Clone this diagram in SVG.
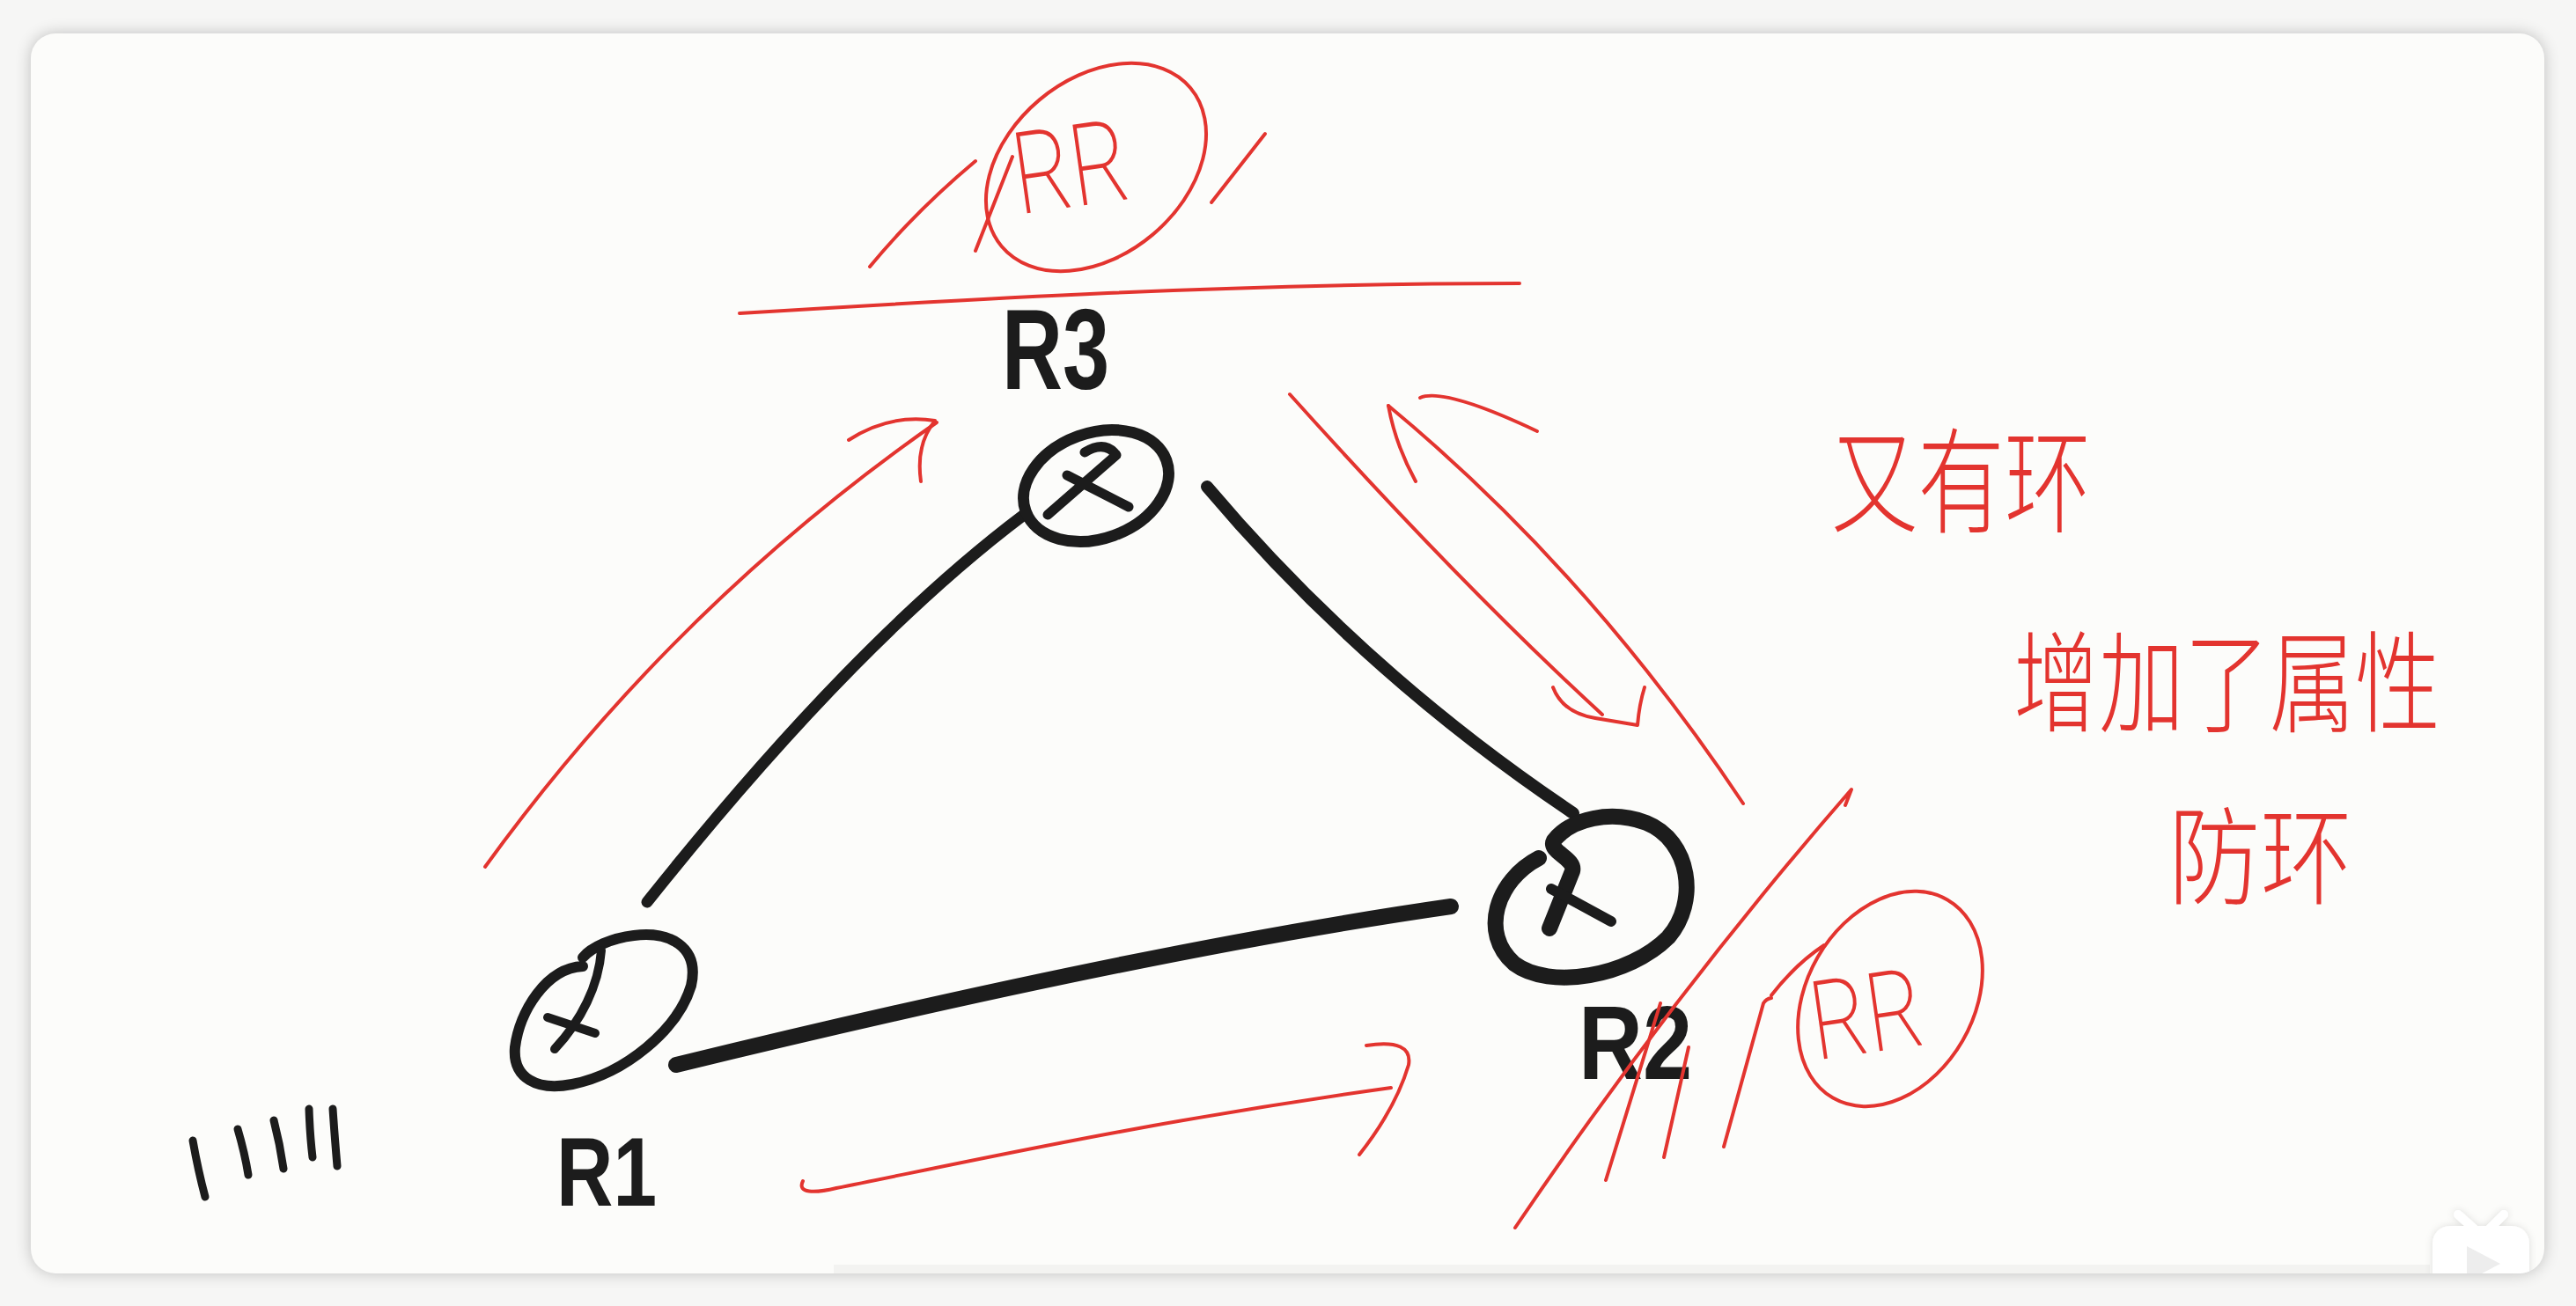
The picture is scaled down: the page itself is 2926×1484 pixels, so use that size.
<svg xmlns="http://www.w3.org/2000/svg" width="2926" height="1484" viewBox="0 0 2926 1484">
<defs>
<filter id="sh" x="-5%" y="-5%" width="110%" height="110%"><feGaussianBlur stdDeviation="9"/></filter>
<filter id="ish" x="-30%" y="-30%" width="160%" height="160%"><feDropShadow dx="0" dy="0" stdDeviation="4" flood-color="#000" flood-opacity="0.12"/></filter>
<clipPath id="cardclip"><rect x="35" y="38" width="2855" height="1409" rx="28"/></clipPath>
</defs>
<style>
.ink{fill:none;stroke:#1c1c1c;stroke-linecap:round;stroke-linejoin:round}
.red{fill:none;stroke:#e3342f;stroke-width:4;stroke-linecap:round;stroke-linejoin:round}
.lbl{font-family:"Liberation Sans",Arial,sans-serif;font-weight:bold;fill:#1c1c1c}
.rtx{font-family:Roboto,Inter,"Liberation Sans",sans-serif;font-weight:200;fill:#e3342f}
.cjk{font-family:"Noto Sans CJK SC","Noto Sans",sans-serif;font-weight:300;fill:#e3342f}
</style>
<rect width="2926" height="1484" fill="#f6f6f5"/>
<rect x="35" y="38" width="2855" height="1409" rx="28" fill="#000" opacity="0.22" filter="url(#sh)"/>
<rect x="35" y="38" width="2855" height="1409" rx="28" fill="#fcfcfa"/>
<g clip-path="url(#cardclip)">
  <rect x="947" y="1437" width="1813" height="10" fill="#f3f3f1"/>
  <g id="bili" filter="url(#ish)">
    <path d="M2792,1380 L2810,1396 M2844,1380 L2828,1396" stroke="#ffffff" stroke-width="10" stroke-linecap="round"/>
    <rect x="2763" y="1393" width="110" height="90" rx="20" fill="#ffffff"/>
    <path d="M2802,1416 L2840,1436 L2802,1456 Z" fill="#ededed"/>
  </g>
</g>

<g id="connectors">
  <path class="ink" stroke-width="13" d="M735,1025 Q969,731 1163,585"/>
  <path class="ink" stroke-width="14" d="M1371,553 Q1550,765 1787,924"/>
  <path class="ink" stroke-width="18" d="M768,1210 Q1300,1080 1648,1030"/>
  <path class="red" d="M551,985 Q765,689 1064,480"/>
  <path class="red" d="M964,500 Q1010,470 1062,478 Q1040,505 1046,547"/>
  <path class="red" d="M912,1342 C905,1356 925,1356 950,1350 C1100,1320 1300,1275 1580,1236"/>
  <path class="red" d="M1552,1188 Q1605,1180 1600,1210 Q1585,1260 1544,1312"/>
  <path class="red" d="M1465,448 Q1660,665 1820,812"/>
  <path class="red" d="M1764,781 Q1775,810 1812,816 L1860,824 Q1862,800 1868,781"/>
  <path class="red" d="M1980,913 Q1805,650 1577,461"/>
  <path class="red" d="M1577,461 Q1585,505 1608,547"/>
  <path class="red" d="M1613,452 Q1640,440 1746,490"/>
</g>

<g id="R3">
  <ellipse class="ink" stroke-width="13" cx="1245" cy="552" rx="85" ry="60" transform="rotate(-20 1245 552)"/>
  <path class="ink" stroke-width="11" d="M1190,585 L1268,517 M1212,540 L1282,576 M1232,514 Q1255,500 1268,517"/>
  <text class="lbl" x="1138" y="442" font-size="130" textLength="122" lengthAdjust="spacingAndGlyphs">R3</text>
</g>

<g id="R1">
  <path class="ink" stroke-width="12" d="M662,1098 C620,1100 590,1150 585,1190 C582,1225 610,1240 650,1232 C710,1220 770,1170 785,1120 C795,1075 760,1058 720,1063 C695,1066 672,1076 662,1088"/>
  <path class="ink" stroke-width="10" d="M683,1080 C680,1120 660,1160 630,1192 M622,1156 L676,1174"/>
  <text class="lbl" x="632" y="1370" font-size="112" textLength="114" lengthAdjust="spacingAndGlyphs">R1</text>
</g>

<g id="R2">
  <path class="ink" stroke-width="18" d="M1748,975 C1700,1000 1680,1060 1720,1095 C1760,1125 1850,1110 1895,1065 C1930,1025 1920,955 1870,935 C1830,920 1785,930 1765,955 C1758,968 1790,975 1786,990 L1760,1055"/>
  <path class="ink" stroke-width="12" d="M1762,1010 L1830,1047"/>
  <text class="lbl" x="1793" y="1226" font-size="118" textLength="129" lengthAdjust="spacingAndGlyphs">R2</text>
</g>

<g id="rr-top">
  <ellipse class="red" cx="1245" cy="190" rx="140" ry="100" transform="rotate(-40 1245 190)"/>
  <text class="rtx" x="1150" y="235" font-size="130" textLength="130" lengthAdjust="spacingAndGlyphs" transform="rotate(-8 1215 185)">RR</text>
  <path class="red" d="M1150,178 L1108,285"/>
  <path class="red" d="M988,303 Q1040,240 1108,183"/>
  <path class="red" d="M1376,230 L1437,152"/>
  <path class="red" stroke-width="5" d="M840,356 C1100,340 1400,322 1726,322"/>
</g>

<g id="rr-right">
  <ellipse class="red" cx="2147" cy="1135" rx="130" ry="95" transform="rotate(-60 2147 1135)"/>
  <text class="rtx" x="2056" y="1196" font-size="125" textLength="127" lengthAdjust="spacingAndGlyphs" transform="rotate(-8 2120 1150)">RR</text>
  <path class="red" d="M1721,1395 Q1900,1130 2103,897 L2096,915"/>
  <path class="red" d="M1824,1341 L1886,1140"/>
  <path class="red" d="M1890,1315 L1918,1190"/>
  <path class="red" d="M1958,1303 L2003,1140 Q2006,1135 2012,1134"/>
  <path class="red" d="M2012,1131 Q2040,1095 2072,1074"/>
</g>

<g id="notes">
  <text class="cjk" x="2080" y="595" font-size="130" textLength="295" lengthAdjust="spacingAndGlyphs">又有环</text>
  <text class="cjk" x="2287" y="822" font-size="125" textLength="485" lengthAdjust="spacingAndGlyphs">增加了属性</text>
  <text class="cjk" x="2463" y="1018" font-size="122" textLength="209" lengthAdjust="spacingAndGlyphs">防环</text>
</g>

<g id="tally" class="ink" stroke-width="9">
  <path d="M219,1296 Q225,1330 233,1360"/>
  <path d="M270,1283 Q278,1310 282,1335"/>
  <path d="M311,1273 Q318,1300 322,1328"/>
  <path d="M351,1260 Q352,1290 355,1315"/>
  <path d="M378,1260 Q380,1290 383,1325"/>
</g>
</svg>
